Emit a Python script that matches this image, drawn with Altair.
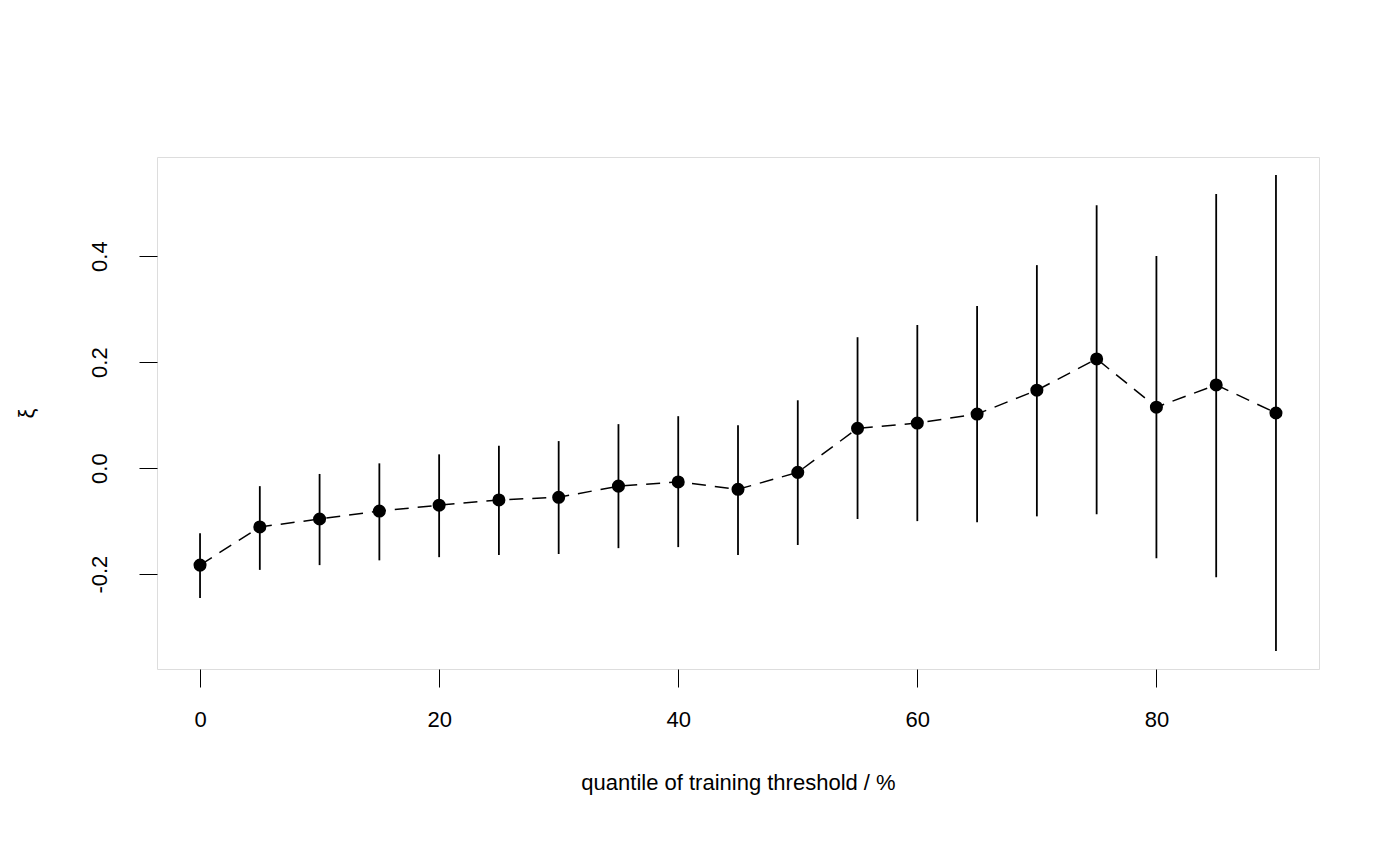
import altair as alt
import pandas as pd

q = [0,5,10,15,20,25,30,35,40,45,50,55,60,65,70,75,80,85,90]
xi = [-0.183,-0.111,-0.096,-0.081,-0.070,-0.060,-0.055,-0.034,-0.026,-0.040,-0.008,0.075,0.085,0.102,0.147,0.206,0.115,0.157,0.104]
lo = [-0.245,-0.192,-0.183,-0.174,-0.168,-0.164,-0.162,-0.151,-0.149,-0.164,-0.145,-0.096,-0.100,-0.102,-0.091,-0.087,-0.170,-0.206,-0.345]
hi = [-0.123,-0.034,-0.011,0.009,0.026,0.042,0.051,0.083,0.098,0.081,0.128,0.247,0.270,0.306,0.383,0.496,0.400,0.517,0.553]

df = pd.DataFrame({"q": q, "xi": xi, "lo": lo, "hi": hi})
F = "Liberation Sans"
xs = alt.Scale(domain=[-3.6, 93.6], nice=False, zero=False)
ys = alt.Scale(domain=[-0.379, 0.587], nice=False, zero=False)
xax = alt.Axis(values=[0,20,40,60,80], grid=False, domain=False, tickSize=18, tickColor="black",
               labelFontSize=22, labelFont=F, labelColor="black", labelPadding=22,
               title="quantile of training threshold / %", titleFontSize=22, titleFont=F,
               titleFontWeight="normal", titleColor="black", titlePadding=42)
yax = alt.Axis(values=[-0.2,0,0.2,0.4], grid=False, domain=False, tickSize=18, tickColor="black",
               labelExpr="replace(format(datum.value, '.1f'), '\u2212', '-')",
               labelFontSize=22, labelFont=F, labelColor="black", labelAngle=270, labelAlign="center",
               labelBaseline="bottom", labelPadding=28,
               title="ξ", titleFontSize=22, titleFont=F, titleFontWeight="normal", titleColor="black",
               titlePadding=50)

base = alt.Chart(df)
line = base.mark_line(color="black", strokeDash=[14, 9], strokeWidth=1.5).encode(
    x=alt.X("q:Q", scale=xs, axis=xax), y=alt.Y("xi:Q", scale=ys, axis=yax))
rule = base.mark_rule(color="black", strokeWidth=1.8).encode(
    x=alt.X("q:Q", scale=xs), y=alt.Y("lo:Q", scale=ys), y2="hi:Q")
pts = base.mark_point(filled=True, color="black", size=170, opacity=1).encode(
    x=alt.X("q:Q", scale=xs), y=alt.Y("xi:Q", scale=ys))

chart = (line + rule + pts).properties(
    width=1162, height=512,
    padding={"left": 149, "top": 149, "right": 60, "bottom": 185},
    autosize=alt.AutoSizeParams(type="none"),
).configure_view(stroke="black", strokeWidth=1.5, strokeOpacity=1).configure(background="white")

chart.save("out.html", embed_options={"renderer": "svg", "actions": False})
